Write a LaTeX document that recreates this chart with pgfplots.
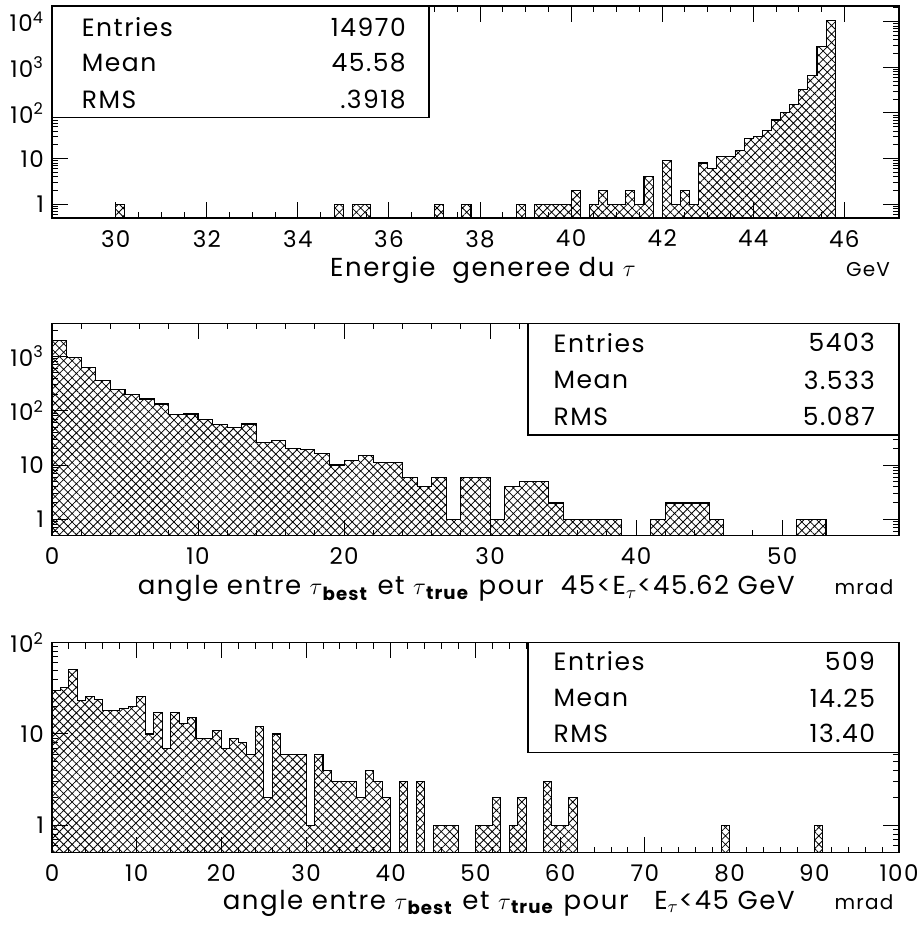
\documentclass[border=0pt]{standalone}
\usepackage{fontspec}
\setmainfont{Poppins}[LetterSpace=6]
\usepackage{pgfplots}
\usepackage{pgfplotstable}
\pgfplotsset{compat=1.18}
\usetikzlibrary{patterns.meta}

\pgfplotstableread{
x y
28.6 0.5
30.0 1
30.2 0.5
34.8 1
35.0 0.5
35.2 1
35.4 1
35.6 0.5
37.0 1
37.2 0.5
37.6 1
37.8 0.5
38.8 1
39.0 0.5
39.2 1
39.4 1
39.6 1
39.8 1
40.0 2
40.2 0.5
40.4 1
40.6 2
40.8 1
41.0 1
41.2 2
41.4 1
41.6 4
41.8 0.5
42.0 9
42.2 1
42.4 2
42.6 1
42.8 8
43.0 6
43.2 11
43.4 11
43.6 15
43.8 28
44.0 30
44.2 42
44.4 70
44.6 102
44.8 155
45.0 330
45.2 650
45.4 2800
45.6 10800
45.8 0.5
47.2 0.5
}\toptab

\pgfplotstableread{
x y
0 1950
1 940
2 618
3 362
4 247
5 200
6 164
7 133
8 86
9 87
10 70
11 56
12 49
13 57
14 26
15 28
16 20
17 19
18 16
19 10
20 12
21 15
22 11
23 11
24 6
25 4
26 6
27 1
28 6
29 6
30 1
31 4
32 5
33 5
34 2
35 1
36 1
37 1
38 1
39 0.5
41 1
42 2
43 2
44 2
45 1
46 0.5
51 1
52 1
53 0.5
58 0.5
}\midtab

\pgfplotstableread{
x y
0 30
1 32
2 51
3 23
4 26
5 24
6 18
7 18
8 19
9 20
10 26
11 10
12 17
13 7
14 17
15 13
16 15
17 9
18 9
19 11
20 7
21 9
22 8
23 6
24 12
25 2
26 10
27 6
28 6
29 6
30 1
31 6
32 4
33 3
34 3
35 3
36 2
37 4
38 3
39 2
40 0.5
41 3
42 0.5
43 3
44 0.5
45 1
46 1
47 1
48 0.5
50 1
51 1
52 2
53 0.5
54 1
55 2
56 0.5
58 3
59 1
60 1
61 2
62 0.5
79 1
80 0.5
90 1
91 0.5
100 0.5
}\bottab

\pgfplotsset{
  pawaxis/.style={
    scale only axis,
    width=423.5pt,
    log origin=infty,
    axis line style={line width=0.75pt},
    tick style={black, line width=0.5pt},
    tick align=inside,
    tick pos=both,
    xticklabel pos=bottom,
    yticklabel pos=left,
    major tick length=7.8pt,
    minor tick length=3pt,
    /pgf/number format/assume math mode=true,
    tick label style={font=\fontsize{11.5}{13}\selectfont},
    xticklabel style={yshift=-2.5pt},
    yticklabel style={xshift=-0.5pt},
  },
  pawfill/.style={ybar interval, draw=none, pattern={Hatch[angle=45,distance=3pt,line width=0.4pt]}},
  pawline/.style={const plot, black, line width=0.55pt, mark=none},
}

\newcommand{\boxfont}{\fontsize{12.5}{14}\selectfont}
\newcommand{\labfont}{\fontsize{13}{15}\selectfont}
\newcommand{\unitfont}{\fontsize{10}{12}\selectfont}

\begin{document}
\begin{tikzpicture}[x=1pt,y=1pt]
\path[use as bounding box] (0,0) rectangle (461.5,462.5);

% ---------- top ----------
\begin{axis}[pawaxis, ymode=log, at={(26pt,353.5pt)}, anchor=south west, height=106pt,
  xmin=28.6, xmax=47.2, ymin=0.5, ymax=22000,
  xtick={30,32,...,46}, minor x tick num=3,
  ytick={1,10,100,1000,10000},
  yticklabels={1,10,10\textsuperscript{2},10\textsuperscript{3},10\textsuperscript{4}},
  minor ytick={0.6,0.7,0.8,0.9,2,3,4,5,6,7,8,9,20,30,40,50,60,70,80,90,200,300,400,500,600,700,800,900,2000,3000,4000,5000,6000,7000,8000,9000,20000},
]
\addplot[pawfill] table {\toptab};
\addplot[pawline] table {\toptab};
\draw[line width=0.6pt, fill=white] (rel axis cs:0,1) rectangle (rel axis cs:0.445,0.475);
\node[anchor=west, font=\boxfont] at (rel axis cs:0.027,0.900) {Entries};
\node[anchor=west, font=\boxfont] at (rel axis cs:0.027,0.731) {Mean};
\node[anchor=west, font=\boxfont] at (rel axis cs:0.027,0.557) {RMS};
\node[anchor=east, font=\boxfont] at (rel axis cs:0.426,0.900) {14970};
\node[anchor=east, font=\boxfont] at (rel axis cs:0.426,0.731) {45.58};
\node[anchor=east, font=\boxfont] at (rel axis cs:0.426,0.557) {.3918};
\end{axis}
\node[anchor=base, inner sep=0pt, font=\labfont] at (241.5,324) {Energie\ \ generee du $\tau$};
\node[anchor=base, inner sep=0pt, font=\unitfont] at (434,324) {GeV};

% ---------- middle ----------
\begin{axis}[pawaxis, ymode=log, at={(26pt,194.65pt)}, anchor=south west, height=106.2pt,
  xmin=0, xmax=58, ymin=0.5, ymax=4070,
  xtick={0,10,...,50}, minor x tick num=4,
  ytick={1,10,100,1000},
  yticklabels={1,10,10\textsuperscript{2},10\textsuperscript{3}},
  minor ytick={0.6,0.7,0.8,0.9,2,3,4,5,6,7,8,9,20,30,40,50,60,70,80,90,200,300,400,500,600,700,800,900,2000,3000,4000},
]
\addplot[pawfill] table {\midtab};
\addplot[pawline] table {\midtab};
\draw[line width=0.6pt, fill=white] (rel axis cs:0.562,1) rectangle (rel axis cs:1,0.474);
\node[anchor=west, font=\boxfont] at (rel axis cs:0.584,0.909) {Entries};
\node[anchor=west, font=\boxfont] at (rel axis cs:0.584,0.733) {Mean};
\node[anchor=west, font=\boxfont] at (rel axis cs:0.584,0.560) {RMS};
\node[anchor=east, font=\boxfont] at (rel axis cs:0.980,0.909) {5403};
\node[anchor=east, font=\boxfont] at (rel axis cs:0.980,0.733) {3.533};
\node[anchor=east, font=\boxfont] at (rel axis cs:0.980,0.560) {5.087};
\end{axis}
\node[anchor=base east, inner sep=0pt, font=\labfont] at (397.5,165) {angle entre $\tau$\textsubscript{\textbf{best}} et $\tau$\textsubscript{\textbf{true}} pour\ \ 45<E\textsubscript{$\tau$}<45.62 GeV};
\node[anchor=base, inner sep=0pt, font=\unitfont] at (432,165) {mrad};

% ---------- bottom ----------
\begin{axis}[pawaxis, ymode=log, at={(26pt,36.15pt)}, anchor=south west, height=105pt,
  xmin=0, xmax=100, ymin=0.5, ymax=100,
  xtick={0,10,...,100}, minor x tick num=4,
  ytick={1,10,100},
  yticklabels={1,10,10\textsuperscript{2}},
  minor ytick={0.6,0.7,0.8,0.9,2,3,4,5,6,7,8,9,20,30,40,50,60,70,80,90},
]
\addplot[pawfill] table {\bottab};
\addplot[pawline] table {\bottab};
\draw[line width=0.6pt, fill=white] (rel axis cs:0.562,1) rectangle (rel axis cs:1,0.476);
\node[anchor=west, font=\boxfont] at (rel axis cs:0.584,0.910) {Entries};
\node[anchor=west, font=\boxfont] at (rel axis cs:0.584,0.736) {Mean};
\node[anchor=west, font=\boxfont] at (rel axis cs:0.584,0.566) {RMS};
\node[anchor=east, font=\boxfont] at (rel axis cs:0.980,0.910) {509};
\node[anchor=east, font=\boxfont] at (rel axis cs:0.980,0.736) {14.25};
\node[anchor=east, font=\boxfont] at (rel axis cs:0.980,0.566) {13.40};
\end{axis}
\node[anchor=base east, inner sep=0pt, font=\labfont] at (397.5,8) {angle entre $\tau$\textsubscript{\textbf{best}} et $\tau$\textsubscript{\textbf{true}} pour\ \ \ E\textsubscript{$\tau$}<45 GeV};
\node[anchor=base, inner sep=0pt, font=\unitfont] at (432,8) {mrad};
\end{tikzpicture}
\end{document}
